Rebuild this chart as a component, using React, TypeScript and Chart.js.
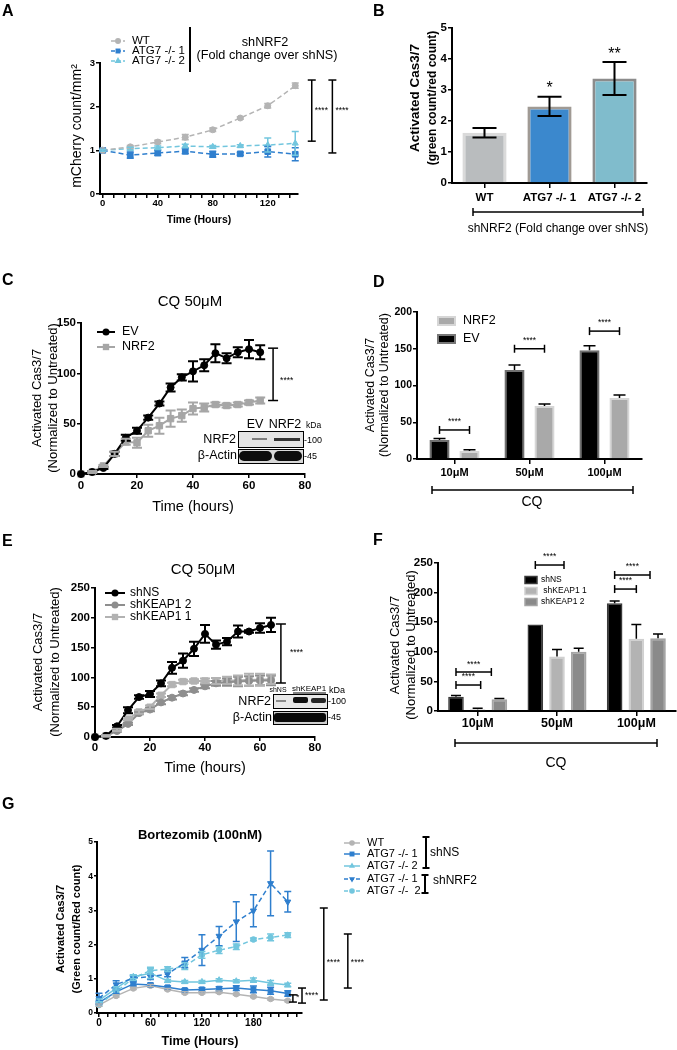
import React, { useEffect, useRef } from 'react';
import { Chart, registerables } from 'chart.js';

Chart.register(...registerables);

const FONT = '"Liberation Sans", Arial, Helvetica, sans-serif';
Chart.defaults.font.family = FONT;
Chart.defaults.color = '#000';

// ---------- colours ----------
const GREY = '#b4b4b4';
const BLUE = '#2f7fce';
const CYAN = '#72c6de';

// ---------- Panel A ----------
const aTimes = [0, 20, 40, 60, 80, 100, 120, 140];
const aWT = [1.0, 1.08, 1.19, 1.3, 1.47, 1.74, 2.02, 2.48];
const aWTErr = [0.02, 0.03, 0.04, 0.06, 0.04, 0.03, 0.05, 0.06];
const aKO1 = [1.0, 0.89, 0.94, 0.98, 0.91, 0.92, 0.97, 0.91];
const aKO1Err = [0.02, 0.07, 0.06, 0.06, 0.07, 0.03, 0.12, 0.15];
const aKO2 = [1.0, 1.04, 1.06, 1.1, 1.08, 1.1, 1.12, 1.16];
const aKO2Err = [0.02, 0.03, 0.04, 0.04, 0.03, 0.03, 0.16, 0.27];
const aLegend = ['WT', 'ATG7 -/- 1', 'ATG7 -/- 2'];
const aXTicks = [0, 8, 16, 24, 32, 40, 48, 56, 64, 72, 80, 88, 96, 104, 112, 120, 128, 136];
const aXLabels = [0, 40, 80, 120];
const aYTicks = [0, 1, 2, 3];
const aBrX = [152, 167];
const aBrTop = [2.61, 2.61];
const aBrBot = [1.21, 0.94];

// ---------- Panel B ----------
const bCats = ['WT', 'ATG7 -/- 1', 'ATG7 -/- 2'];
const bVals = [1.62, 2.47, 3.37];
const bErr = [0.155, 0.31, 0.53];
const bStars = ['', '*', '**'];
const bYTicks = [0, 1, 2, 3, 4, 5];

// ---------- Panel C ----------
const cTimes = [0, 4, 8, 12, 16, 20, 24, 28, 32, 36, 40, 44, 48, 52, 56, 60, 64];
const cEV = [0, 2, 6, 20, 36, 43, 56, 70, 86, 96, 102, 108, 120, 115, 121, 124, 121];
const cEVErr = [0, 1, 1, 2, 3, 3, 2, 2, 4, 3, 10, 6, 9, 5, 5, 9, 7];
const cNRF2 = [0, 2, 8, 20, 32, 31, 43, 48, 55, 58, 65, 66, 69, 68, 69, 71, 73];
const cNRF2Err = [0, 1, 1, 2, 3, 5, 6, 8, 8, 6, 6, 4, 2, 2, 2, 2, 3];
const cLegend = ['EV', 'NRF2'];
const cXTicks = [0, 20, 40, 60, 80];
const cYTicks = [0, 50, 100, 150];

// ---------- Panel D ----------
const dCats = ['10μM', '50μM', '100μM'];
const dEV = [26, 121, 148];
const dEVErr = [2, 7, 6];
const dNRF2 = [11, 72, 83];
const dNRF2Err = [1.5, 3, 4];
const dLegend = ['NRF2', 'EV'];
const dYTicks = [0, 50, 100, 150, 200];
const dBracketY = [39.5, 150, 174];

// ---------- Panel E ----------
const eTimes = [0, 4, 8, 12, 16, 20, 24, 28, 32, 36, 40, 44, 48, 52, 56, 60, 64];
const eShNS = [0, 2, 18, 45, 67, 72, 90, 116, 128, 148, 173, 155, 160, 177, 177, 183, 188];
const eShNSErr = [0, 1, 2, 5, 3, 5, 5, 10, 12, 12, 15, 7, 6, 10, 2, 8, 12];
const eK2 = [0, 2, 10, 22, 40, 46, 58, 66, 73, 79, 85, 90, 92, 93, 94, 95, 95];
const eK2Err = [0, 1, 1, 2, 2, 3, 3, 3, 3, 3, 3, 4, 6, 8, 8, 8, 8];
const eK1 = [0, 2, 12, 30, 42, 50, 70, 88, 93, 94, 94, 94, 95, 95, 96, 96, 97];
const eK1Err = [0, 1, 2, 2, 3, 3, 3, 3, 3, 3, 4, 5, 6, 8, 10, 10, 8];
const eLegend = ['shNS', 'shKEAP1 2', 'shKEAP1 1'];
const eXTicks = [0, 20, 40, 60, 80];
const eYTicks = [0, 50, 100, 150, 200, 250];

// ---------- Panel F ----------
const fCats = ['10μM', '50μM', '100μM'];
const fShNS = [24, 146, 182];
const fShNSErr = [2, 0, 4];
const fK1 = [3, 92, 122];
const fK1Err = [1.5, 12, 24];
const fK2 = [20, 100, 123];
const fK2Err = [1, 6, 7];
const fLegend = ['shNS', ' shKEAP1 1', 'shKEAP1 2'];
const fYTicks = [0, 50, 100, 150, 200, 250];

// ---------- Panel G ----------
const gTimes = [0, 20, 40, 60, 80, 100, 120, 140, 160, 180, 200, 220];
const gWT = [0.23, 0.5, 0.72, 0.8, 0.69, 0.59, 0.59, 0.61, 0.55, 0.48, 0.41, 0.36];
const gWTErr = [0.03, 0.03, 0.03, 0.03, 0.03, 0.03, 0.03, 0.03, 0.03, 0.03, 0.03, 0.03];
const gKO1 = [0.3, 0.62, 0.85, 0.82, 0.75, 0.67, 0.69, 0.71, 0.73, 0.69, 0.65, 0.57];
const gKO1Err = [0.05, 0.05, 0.06, 0.05, 0.04, 0.04, 0.05, 0.06, 0.07, 0.1, 0.1, 0.08];
const gKO2 = [0.37, 0.72, 1.06, 1.16, 0.94, 0.91, 0.91, 0.96, 0.93, 0.96, 0.88, 0.82];
const gKO2Err = [0.04, 0.05, 0.06, 0.15, 0.04, 0.04, 0.04, 0.04, 0.04, 0.06, 0.07, 0.05];
const gKO1n = [0.43, 0.83, 1.02, 1.06, 1.14, 1.47, 1.84, 2.25, 2.67, 2.99, 3.79, 3.25];
const gKO1nErr = [0.15, 0.11, 0.08, 0.08, 0.08, 0.15, 0.45, 0.28, 0.58, 0.47, 0.95, 0.3];
const gKO2n = [0.25, 0.62, 1.02, 1.24, 1.28, 1.37, 1.7, 1.84, 1.94, 2.15, 2.21, 2.28];
const gKO2nErr = [0.05, 0.08, 0.08, 0.1, 0.07, 0.1, 0.1, 0.1, 0.08, 0.04, 0.1, 0.07];
const gLegend = ['WT', 'ATG7 -/- 1', 'ATG7 -/- 2', 'ATG7 -/- 1', 'ATG7 -/-  2'];
const gXTicks = [0, 10, 20, 30, 40, 50, 60, 70, 80, 90, 100, 110, 120, 130, 140, 150, 160, 170, 180, 190, 200, 210, 220, 230];
const gXLabels = [0, 60, 120, 180];
const gYTicks = [0, 1, 2, 3, 4, 5];
const gBrX = [226, 236.6, 262, 290];
const gBrTop = [0.53, 0.73, 3.07, 2.31];
const gBrBot = [0.32, 0.29, 0.38, 0.73];
const gBrTextY = [0.44, 0.5, 1.46, 1.46];
const gBrLabel = ['*', '****', '****', '****'];

// ---------- geometry (page coordinates) ----------
const A_RECT = { x: 0, y: 0, w: 362, h: 250 };
const A_AREA = { l: 100, t: 63, r: 298, b: 194 };
const B_RECT = { x: 340, y: 0, w: 337, h: 250 };
const B_AREA = { l: 452, t: 28, r: 647, b: 183 };
const C_RECT = { x: 0, y: 255, w: 340, h: 275 };
const C_AREA = { l: 81, t: 323, r: 305, b: 474 };
const D_RECT = { x: 340, y: 255, w: 337, h: 265 };
const D_AREA = { l: 417, t: 312, r: 642, b: 459 };
const E_RECT = { x: 0, y: 530, w: 350, h: 260 };
const E_AREA = { l: 95, t: 588, r: 315, b: 737 };
const F_RECT = { x: 340, y: 520, w: 337, h: 270 };
const F_AREA = { l: 438, t: 563, r: 676, b: 711 };
const G_RECT = { x: 0, y: 790, w: 677, h: 260 };
const G_AREA = { l: 97, t: 842, r: 302, b: 1013 };

const Y_BOX = 34; // width reserved for y tick labels
const X_BOX = 24; // height reserved for x tick labels

// ---------- drawing helpers ----------
function text(ctx: any, s: string, x: number, y: number, size: number, o: any = {}) {
  ctx.save();
  ctx.font = `${o.bold ? 'bold ' : ''}${size}px ${FONT}`;
  ctx.fillStyle = o.color || '#000';
  ctx.textAlign = o.align || 'center';
  ctx.textBaseline = o.baseline || 'middle';
  if (o.rot) {
    ctx.translate(x, y);
    ctx.rotate(o.rot);
    ctx.fillText(s, 0, 0);
  } else ctx.fillText(s, x, y);
  ctx.restore();
}
function seg(ctx: any, x1: number, y1: number, x2: number, y2: number, lw = 1.5, color = '#000', dash: number[] = []) {
  ctx.save();
  ctx.strokeStyle = color;
  ctx.lineWidth = lw;
  ctx.setLineDash(dash);
  ctx.beginPath();
  ctx.moveTo(x1, y1);
  ctx.lineTo(x2, y2);
  ctx.stroke();
  ctx.restore();
}
function ibeam(ctx: any, x: number, y1: number, y2: number, half: number, lw = 1.5) {
  seg(ctx, x, y1, x, y2, lw);
  seg(ctx, x - half, y1, x + half, y1, lw);
  seg(ctx, x - half, y2, x + half, y2, lw);
}
function hbracket(ctx: any, x1: number, x2: number, y: number, half: number, lw = 1.5) {
  seg(ctx, x1, y, x2, y, lw);
  seg(ctx, x1, y - half, x1, y + half, lw);
  seg(ctx, x2, y - half, x2, y + half, lw);
}
function mark(ctx: any, style: string, x: number, y: number, r: number, color: string) {
  ctx.save();
  ctx.fillStyle = color;
  ctx.beginPath();
  if (style === 'circle') ctx.arc(x, y, r, 0, Math.PI * 2);
  else if (style === 'rect') {
    const s = r * Math.SQRT1_2;
    ctx.rect(x - s, y - s, 2 * s, 2 * s);
  } else {
    const a0 = style === 'triangle' ? 0 : Math.PI;
    for (let k = 0; k < 3; k++) {
      const a = a0 + (k * 2 * Math.PI) / 3;
      const px = x + Math.sin(a) * r;
      const py = y - Math.cos(a) * r;
      if (k) ctx.lineTo(px, py);
      else ctx.moveTo(px, py);
    }
    ctx.closePath();
  }
  ctx.fill();
  ctx.restore();
}
function legendEntry(ctx: any, x1: number, x2: number, y: number, color: string, dash: number[], lw: number, style: string, r: number, label: string, tx: number, size: number, bold = false) {
  seg(ctx, x1, y, x2, y, lw, color, dash);
  mark(ctx, style, (x1 + x2) / 2, y, r, color);
  text(ctx, label, tx, y, size, { align: 'left', bold });
}
function legendBox(ctx: any, x: number, y: number, w: number, h: number, fill: string, edge: string, lw = 2) {
  ctx.save();
  ctx.fillStyle = fill;
  ctx.fillRect(x, y, w, h);
  ctx.strokeStyle = edge;
  ctx.lineWidth = lw;
  ctx.strokeRect(x, y, w, h);
  ctx.restore();
}
function letter(ctx: any, s: string, x: number, y: number) {
  text(ctx, s, x, y, 16, { bold: true, align: 'left', baseline: 'alphabetic' });
}
function rrect(ctx: any, x: number, y: number, w: number, h: number, r: number, fill: string) {
  ctx.save();
  ctx.fillStyle = fill;
  ctx.beginPath();
  ctx.roundRect(x, y, w, h, r);
  ctx.fill();
  ctx.restore();
}
function boxRect(ctx: any, x: number, y: number, w: number, h: number, fill: string) {
  ctx.save();
  ctx.fillStyle = fill;
  ctx.fillRect(x, y, w, h);
  ctx.strokeStyle = '#000';
  ctx.lineWidth = 1;
  ctx.strokeRect(x + 0.5, y + 0.5, w, h);
  ctx.restore();
}

// ---------- chart option helpers ----------
function common(rect: any, area: any) {
  return {
    responsive: false,
    maintainAspectRatio: false,
    animation: false,
    devicePixelRatio: 1,
    events: [],
    layout: {
      autoPadding: false,
      padding: {
        left: area.l - rect.x - Y_BOX,
        top: area.t - rect.y,
        right: rect.x + rect.w - area.r,
        bottom: rect.y + rect.h - area.b - X_BOX,
      },
    },
    plugins: { legend: { display: false }, tooltip: { enabled: false }, title: { display: false } },
  };
}
function linAxis(axis: string, min: number, max: number, ticks: number[], labels: number[], font: number, pad: number, tickLen = 4) {
  return {
    type: 'linear',
    min,
    max,
    afterFit: (s: any) => {
      if (axis === 'x') s.height = X_BOX;
      else s.width = Y_BOX;
    },
    afterBuildTicks: (s: any) => {
      s.ticks = ticks.map((v) => ({ value: v }));
    },
    grid: { display: true, drawOnChartArea: false, drawTicks: true, tickLength: tickLen, color: '#000', lineWidth: 1.5 },
    border: { display: true, color: '#000', width: 2 },
    ticks: {
      autoSkip: false,
      maxRotation: 0,
      minRotation: 0,
      padding: pad,
      color: '#000',
      font: { family: FONT, size: font, weight: 'bold' },
      callback: (v: number) => (labels.includes(v) ? String(v) : ''),
    },
  };
}
function catAxis(font: number, pad: number) {
  return {
    type: 'category',
    offset: true,
    afterFit: (s: any) => {
      s.height = X_BOX;
    },
    grid: { display: true, drawOnChartArea: false, drawTicks: true, offset: false, tickLength: 5, color: '#000', lineWidth: 1.5 },
    border: { display: true, color: '#000', width: 2 },
    ticks: { autoSkip: false, maxRotation: 0, minRotation: 0, padding: pad, color: '#000', font: { family: FONT, size: font, weight: 'bold' } },
  };
}
function lineDs(times: number[], vals: number[], errs: number[], color: string, style: string, o: any = {}) {
  return {
    data: times.map((t, i) => ({ x: t, y: vals[i] })),
    errors: errs,
    borderColor: color,
    backgroundColor: color,
    borderWidth: o.lw ?? 1.5,
    borderDash: o.dash ?? [],
    pointStyle: style,
    pointRadius: o.r ?? 3,
    pointHoverRadius: o.r ?? 3,
    pointRotation: o.rot ?? 0,
    pointBackgroundColor: color,
    pointBorderColor: color,
    pointBorderWidth: 1,
    tension: 0,
    fill: false,
    clip: false,
    errColor: color,
    errWidth: o.ew ?? 1.5,
    capW: o.cap ?? 8,
  };
}
function barDs(vals: number[], errs: number[], fill: any, edge: any, bw: number, o: any) {
  return {
    data: vals,
    errors: errs,
    backgroundColor: fill,
    borderColor: edge,
    borderWidth: bw,
    borderSkipped: 'bottom',
    barPercentage: o.bp,
    categoryPercentage: o.cp,
    upOnly: o.upOnly,
    errColor: '#000',
    errWidth: o.ew ?? 1.5,
    capW: o.cap,
  };
}

const errorBars = {
  id: 'errorBars',
  afterDatasetsDraw(chart: any) {
    const ctx = chart.ctx;
    chart.data.datasets.forEach((ds: any, i: number) => {
      if (!ds.errors) return;
      const meta = chart.getDatasetMeta(i);
      const ys = chart.scales[meta.yAxisID];
      ctx.save();
      ctx.strokeStyle = ds.errColor || '#000';
      ctx.lineWidth = ds.errWidth || 1.5;
      ctx.setLineDash([]);
      meta.data.forEach((el: any, j: number) => {
        const e = ds.errors[j];
        if (!e) return;
        const raw = ds.data[j];
        const v = typeof raw === 'number' ? raw : raw.y;
        const x = el.x;
        const y1 = ys.getPixelForValue(v + e);
        const y2 = ys.getPixelForValue(ds.upOnly ? v : v - e);
        const h = (ds.capW || 8) / 2;
        ctx.beginPath();
        ctx.moveTo(x, y1);
        ctx.lineTo(x, y2);
        ctx.moveTo(x - h, y1);
        ctx.lineTo(x + h, y1);
        if (!ds.upOnly) {
          ctx.moveTo(x - h, y2);
          ctx.lineTo(x + h, y2);
        }
        ctx.stroke();
      });
      ctx.restore();
    });
  },
};

function scalers(chart: any, rect: any) {
  return {
    X: (v: number) => chart.scales.x.getPixelForValue(v) + rect.x,
    Y: (v: number) => chart.scales.y.getPixelForValue(v) + rect.y,
  };
}

// ---------- Panel A ----------
function annotA(chart: any) {
  const ctx = chart.ctx;
  const { X, Y } = scalers(chart, A_RECT);
  ctx.save();
  ctx.translate(-A_RECT.x, -A_RECT.y);
  letter(ctx, 'A', 2, 16);
  const cols = [GREY, BLUE, CYAN];
  const styles = ['circle', 'rect', 'triangle'];
  const rs = [3, 3.5, 4];
  [41, 51, 61].forEach((y, i) => legendEntry(ctx, 111, 125, y, cols[i], [4, 2], 1.5, styles[i], rs[i], aLegend[i], 132, 11.5));
  seg(ctx, 190, 27, 190, 72, 2);
  text(ctx, 'shNRF2', 265, 42, 12.7);
  text(ctx, '(Fold change over shNS)', 267, 55, 12.7);
  aBrX.forEach((bx, i) => {
    ibeam(ctx, X(bx), Y(aBrTop[i]), Y(aBrBot[i]), 4);
    text(ctx, '****', X(bx) + 3, Y(1.92), 8.5, { align: 'left' });
  });
  text(ctx, 'mCherry count/mm²', 77, 126, 14, { rot: -Math.PI / 2 });
  text(ctx, 'Time (Hours)', 199, 220, 10.5, { bold: true });
  ctx.restore();
}
function configA() {
  return {
    type: 'line',
    data: {
      datasets: [
        lineDs(aTimes, aWT, aWTErr, GREY, 'circle', { dash: [5, 3], r: 3, cap: 7 }),
        lineDs(aTimes, aKO1, aKO1Err, BLUE, 'rect', { dash: [5, 3], r: 4, cap: 7 }),
        lineDs(aTimes, aKO2, aKO2Err, CYAN, 'triangle', { dash: [5, 3], r: 3.5, cap: 7 }),
      ],
    },
    options: {
      ...common(A_RECT, A_AREA),
      scales: {
        x: linAxis('x', -2, 142, aXTicks, aXLabels, 9.5, 0),
        y: linAxis('y', 0, 3, aYTicks, aYTicks, 9.5, 1),
      },
    },
    plugins: [errorBars, { id: 'annA', afterDraw: annotA }],
  };
}

// ---------- Panel B ----------
function annotB(chart: any) {
  const ctx = chart.ctx;
  const { Y } = scalers(chart, B_RECT);
  const meta = chart.getDatasetMeta(0);
  ctx.save();
  ctx.translate(-B_RECT.x, -B_RECT.y);
  letter(ctx, 'B', 373, 16);
  bStars.forEach((s, i) => {
    if (!s) return;
    text(ctx, s, meta.data[i].x + B_RECT.x, Y(bVals[i] + bErr[i]) - 8, 16);
  });
  text(ctx, 'Activated Cas3/7', 415, 98, 13.5, { bold: true, rot: -Math.PI / 2 });
  text(ctx, '(green count/red count)', 433, 98, 12, { bold: true, rot: -Math.PI / 2 });
  hbracket(ctx, 473, 643, 212, 4);
  text(ctx, 'shNRF2 (Fold change over shNS)', 558, 229, 12);
  ctx.restore();
}
function configB() {
  return {
    type: 'bar',
    data: {
      labels: bCats,
      datasets: [
        barDs(bVals, bErr, ['#b9bcbe', '#3b88cd', '#80bccc'], ['#dadada', '#a09a94', '#8c8c8c'], 3, { bp: 0.68, cp: 1, cap: 24, ew: 2 }),
      ],
    },
    options: {
      ...common(B_RECT, B_AREA),
      scales: {
        x: catAxis(11.5, 3),
        y: linAxis('y', 0, 5, bYTicks, bYTicks, 11.5, 1),
      },
    },
    plugins: [errorBars, { id: 'annB', afterDraw: annotB }],
  };
}

// ---------- Panel C ----------
function blotC(ctx: any) {
  text(ctx, 'EV', 255, 425, 12.5);
  text(ctx, 'NRF2', 285, 425, 12.5);
  text(ctx, 'kDa', 306, 426, 8.5, { align: 'left' });
  boxRect(ctx, 238, 431, 65, 16, '#e4e4e4');
  ctx.save();
  ctx.fillStyle = 'rgba(40,40,40,0.55)';
  ctx.fillRect(252, 438, 15, 2);
  ctx.fillStyle = 'rgba(20,20,20,0.85)';
  ctx.fillRect(274, 438, 26, 3);
  ctx.restore();
  boxRect(ctx, 238, 449, 65, 14, '#d8d8d8');
  rrect(ctx, 239, 451, 33, 10, 5, '#0d0d0d');
  rrect(ctx, 274, 451, 28, 10, 5, '#0d0d0d');
  text(ctx, 'NRF2', 236, 440, 12.5, { align: 'right' });
  text(ctx, 'β-Actin', 237, 456, 12.5, { align: 'right' });
  text(ctx, '-100', 304, 441, 9, { align: 'left' });
  text(ctx, '-45', 304, 457, 9, { align: 'left' });
}
function annotC(chart: any) {
  const ctx = chart.ctx;
  const { X, Y } = scalers(chart, C_RECT);
  ctx.save();
  ctx.translate(-C_RECT.x, -C_RECT.y);
  letter(ctx, 'C', 2, 285);
  text(ctx, 'CQ 50μM', 190, 302, 15);
  legendEntry(ctx, 97, 115, 332, '#000', [], 2, 'circle', 3.5, cLegend[0], 122, 12.5);
  legendEntry(ctx, 97, 115, 347, '#a6a6a6', [], 2, 'rect', 4.5, cLegend[1], 122, 12.5);
  ibeam(ctx, X(68.6), Y(125), Y(73), 5);
  text(ctx, '****', X(68.6) + 7, Y(93), 8.5, { align: 'left' });
  blotC(ctx);
  text(ctx, 'Activated Cas3/7', 37, 398, 13, { rot: -Math.PI / 2 });
  text(ctx, '(Normalized to Untreated)', 53, 398, 13, { rot: -Math.PI / 2 });
  text(ctx, 'Time (hours)', 193, 507, 14.5);
  ctx.restore();
}
function configC() {
  return {
    type: 'line',
    data: {
      datasets: [
        lineDs(cTimes, cEV, cEVErr, '#000', 'circle', { lw: 2, r: 3.5, cap: 10, ew: 2 }),
        lineDs(cTimes, cNRF2, cNRF2Err, '#a6a6a6', 'rect', { lw: 2, r: 4.5, cap: 10, ew: 2 }),
      ],
    },
    options: {
      ...common(C_RECT, C_AREA),
      scales: {
        x: linAxis('x', 0, 80, cXTicks, cXTicks, 11.5, 1),
        y: linAxis('y', 0, 150, cYTicks, cYTicks, 11.5, 1),
      },
    },
    plugins: [errorBars, { id: 'annC', afterDraw: annotC }],
  };
}

// ---------- Panel D ----------
function annotD(chart: any) {
  const ctx = chart.ctx;
  const { Y } = scalers(chart, D_RECT);
  const ev = chart.getDatasetMeta(0).data;
  const nr = chart.getDatasetMeta(1).data;
  ctx.save();
  ctx.translate(-D_RECT.x, -D_RECT.y);
  letter(ctx, 'D', 373, 287);
  legendBox(ctx, 438, 317, 17, 8, '#a9a9a9', '#d6d6d6');
  text(ctx, dLegend[0], 463, 321, 12.5, { align: 'left' });
  legendBox(ctx, 438, 335, 17, 8, '#000', '#777');
  text(ctx, dLegend[1], 463, 339, 12.5, { align: 'left' });
  dBracketY.forEach((v, i) => {
    const x1 = ev[i].x + D_RECT.x;
    const x2 = nr[i].x + D_RECT.x;
    hbracket(ctx, x1, x2, Y(v), 4);
    text(ctx, '****', (x1 + x2) / 2, Y(v) - 8, 8.5);
  });
  text(ctx, 'Activated Cas3/7', 371, 385, 12.5, { rot: -Math.PI / 2 });
  text(ctx, '(Normalized to Untreated)', 385, 385, 12.5, { rot: -Math.PI / 2 });
  hbracket(ctx, 432, 633, 490, 4);
  text(ctx, 'CQ', 532, 506, 14, { baseline: 'alphabetic' });
  ctx.restore();
}
function configD() {
  return {
    type: 'bar',
    data: {
      labels: dCats,
      datasets: [
        barDs(dEV, dEVErr, '#000', '#707070', 2, { bp: 0.67, cp: 0.8, cap: 12, upOnly: true }),
        barDs(dNRF2, dNRF2Err, '#a9a9a9', '#d6d6d6', 2, { bp: 0.67, cp: 0.8, cap: 12, upOnly: true }),
      ],
    },
    options: {
      ...common(D_RECT, D_AREA),
      scales: {
        x: catAxis(11, 2),
        y: linAxis('y', 0, 200, dYTicks, dYTicks, 10.5, 1),
      },
    },
    plugins: [errorBars, { id: 'annD', afterDraw: annotD }],
  };
}

// ---------- Panel E ----------
function blotE(ctx: any) {
  text(ctx, 'shNS', 278, 690, 7);
  text(ctx, 'shKEAP1', 309, 689, 8);
  seg(ctx, 293, 693, 326, 693, 1);
  text(ctx, 'kDa', 329, 691, 9, { align: 'left' });
  boxRect(ctx, 273, 694, 54, 14, '#e8e8e8');
  ctx.save();
  ctx.fillStyle = '#8a8a8a';
  ctx.fillRect(276, 700, 10, 2);
  ctx.restore();
  rrect(ctx, 293, 697, 15, 6, 2, '#111');
  rrect(ctx, 311, 698, 15, 5, 2, '#262626');
  boxRect(ctx, 273, 711, 54, 13, '#cfcfcf');
  rrect(ctx, 274, 713, 52, 9, 3, '#0a0a0a');
  text(ctx, 'NRF2', 271, 702, 12.5, { align: 'right' });
  text(ctx, 'β-Actin', 272, 718, 12.5, { align: 'right' });
  text(ctx, '-100', 328, 702, 9, { align: 'left' });
  text(ctx, '-45', 328, 718, 9, { align: 'left' });
}
function annotE(chart: any) {
  const ctx = chart.ctx;
  const { X, Y } = scalers(chart, E_RECT);
  ctx.save();
  ctx.translate(-E_RECT.x, -E_RECT.y);
  letter(ctx, 'E', 2, 546);
  text(ctx, 'CQ 50μM', 203, 570, 15);
  legendEntry(ctx, 105, 125, 593, '#000', [], 2, 'circle', 3.5, eLegend[0], 130, 12);
  legendEntry(ctx, 105, 125, 605, '#8e8e8e', [], 2, 'circle', 3.5, eLegend[1], 130, 12);
  legendEntry(ctx, 105, 125, 617, '#b2b2b2', [], 2, 'rect', 4.5, eLegend[2], 130, 12);
  ibeam(ctx, X(67.6), Y(189.6), Y(90.6), 5);
  text(ctx, '****', X(67.6) + 9, Y(141), 8.5, { align: 'left' });
  blotE(ctx);
  text(ctx, 'Activated Cas3/7', 38, 662, 13, { rot: -Math.PI / 2 });
  text(ctx, '(Normalized to Untreated)', 55, 662, 13, { rot: -Math.PI / 2 });
  text(ctx, 'Time (hours)', 205, 768, 14.5);
  ctx.restore();
}
function configE() {
  return {
    type: 'line',
    data: {
      datasets: [
        lineDs(eTimes, eShNS, eShNSErr, '#000', 'circle', { lw: 2, r: 3.5, cap: 10, ew: 2 }),
        lineDs(eTimes, eK2, eK2Err, '#8e8e8e', 'circle', { lw: 2, r: 3.5, cap: 10, ew: 2 }),
        lineDs(eTimes, eK1, eK1Err, '#b2b2b2', 'rect', { lw: 2, r: 4.5, cap: 10, ew: 2 }),
      ],
    },
    options: {
      ...common(E_RECT, E_AREA),
      scales: {
        x: linAxis('x', 0, 80, eXTicks, eXTicks, 11.5, 0),
        y: linAxis('y', 0, 250, eYTicks, eYTicks, 11.5, 1),
      },
    },
    plugins: [errorBars, { id: 'annE', afterDraw: annotE }],
  };
}

// ---------- Panel F ----------
function annotF(chart: any) {
  const ctx = chart.ctx;
  const { Y } = scalers(chart, F_RECT);
  const ns = chart.getDatasetMeta(0).data;
  const k1 = chart.getDatasetMeta(1).data;
  const k2 = chart.getDatasetMeta(2).data;
  const px = (el: any) => el.x + F_RECT.x;
  ctx.save();
  ctx.translate(-F_RECT.x, -F_RECT.y);
  letter(ctx, 'F', 373, 545);
  const fills = ['#000', '#b3b3b3', '#8a8a8a'];
  const edges = ['#3a3a3a', '#d0d0d0', '#a5a5a5'];
  [580, 591, 602].forEach((y, i) => {
    legendBox(ctx, 525, y - 3.5, 12, 7, fills[i], edges[i], 1.5);
    text(ctx, fLegend[i], 541, y, 8.5, { align: 'left' });
  });
  const br = (x1: number, x2: number, v: number, tv: number) => {
    hbracket(ctx, x1, x2, Y(v), 4);
    text(ctx, '****', (x1 + x2) / 2, Y(tv), 8.5);
  };
  br(px(ns[1]), px(k1[1]) + 7, 246.6, 260);
  br(px(ns[2]), px(k2[2]) - 8, 229.7, 243);
  br(px(ns[2]), px(k1[2]), 206, 219.6);
  br(px(ns[0]), px(k2[0]) - 8, 65.9, 79);
  br(px(ns[0]), px(k1[0]) + 3, 43.9, 57.4);
  text(ctx, 'Activated Cas3/7', 395, 645, 13, { rot: -Math.PI / 2 });
  text(ctx, '(Normalized to Untreated)', 411, 645, 13, { rot: -Math.PI / 2 });
  hbracket(ctx, 455, 657, 743, 4);
  text(ctx, 'CQ', 556, 767, 14, { baseline: 'alphabetic' });
  ctx.restore();
}
function configF() {
  return {
    type: 'bar',
    data: {
      labels: fCats,
      datasets: [
        barDs(fShNS, fShNSErr, '#000', '#3a3a3a', 1.5, { bp: 0.72, cp: 0.82, cap: 10, upOnly: true }),
        barDs(fK1, fK1Err, '#b3b3b3', '#d0d0d0', 2, { bp: 0.72, cp: 0.82, cap: 10, upOnly: true }),
        barDs(fK2, fK2Err, '#8a8a8a', '#a5a5a5', 2, { bp: 0.72, cp: 0.82, cap: 10, upOnly: true }),
      ],
    },
    options: {
      ...common(F_RECT, F_AREA),
      scales: {
        x: catAxis(12.5, 0),
        y: linAxis('y', 0, 250, fYTicks, fYTicks, 11.5, 1),
      },
    },
    plugins: [errorBars, { id: 'annF', afterDraw: annotF }],
  };
}

// ---------- Panel G ----------
function annotG(chart: any) {
  const ctx = chart.ctx;
  const { X, Y } = scalers(chart, G_RECT);
  ctx.save();
  ctx.translate(-G_RECT.x, -G_RECT.y);
  letter(ctx, 'G', 2, 809);
  text(ctx, 'Bortezomib (100nM)', 200, 835, 13, { bold: true });
  const cols = [GREY, BLUE, CYAN, BLUE, CYAN];
  const styles = ['circle', 'rect', 'triangle', 'triangleDown', 'circle'];
  const dashes = [[], [], [], [4, 2], [4, 2]];
  const rs = [2.8, 3.5, 3.5, 3.5, 2.8];
  [843, 854, 866, 879, 891].forEach((y, i) =>
    legendEntry(ctx, 344, 360, y, cols[i], dashes[i], 1.5, styles[i], rs[i], gLegend[i], 367, 11)
  );
  ibeam(ctx, 426, 837, 868, 3.5, 2);
  text(ctx, 'shNS', 430, 853, 12, { align: 'left' });
  ibeam(ctx, 425, 875, 893, 3.5, 2);
  text(ctx, 'shNRF2', 433, 881, 12, { align: 'left' });
  gBrX.forEach((bx, i) => {
    ibeam(ctx, X(bx), Y(gBrTop[i]), Y(gBrBot[i]), 4);
    text(ctx, gBrLabel[i], X(bx) + 3, Y(gBrTextY[i]), 8.5, { align: 'left' });
  });
  text(ctx, 'Activated Cas3/7', 61, 929, 11, { bold: true, rot: -Math.PI / 2 });
  text(ctx, '(Green count/Red count)', 77, 929, 11, { bold: true, rot: -Math.PI / 2 });
  text(ctx, 'Time (Hours)', 200, 1042, 12.5, { bold: true });
  ctx.restore();
}
function configG() {
  return {
    type: 'line',
    data: {
      datasets: [
        lineDs(gTimes, gKO1n, gKO1nErr, BLUE, 'triangle', { dash: [5, 3], r: 3.5, rot: 180, cap: 7 }),
        lineDs(gTimes, gKO2n, gKO2nErr, CYAN, 'circle', { dash: [5, 3], r: 2.8, cap: 7 }),
        lineDs(gTimes, gKO1, gKO1Err, BLUE, 'rect', { r: 3.5, cap: 7 }),
        lineDs(gTimes, gKO2, gKO2Err, CYAN, 'triangle', { r: 3.5, cap: 7 }),
        lineDs(gTimes, gWT, gWTErr, GREY, 'circle', { r: 2.8, cap: 7 }),
      ],
    },
    options: {
      ...common(G_RECT, G_AREA),
      scales: {
        x: linAxis('x', -2.3, 236.6, gXTicks, gXLabels, 10, 0),
        y: linAxis('y', 0, 5, gYTicks, gYTicks, 8.5, 1, 3),
      },
    },
    plugins: [errorBars, { id: 'annG', afterDraw: annotG }],
  };
}

const PANELS = [
  { rect: A_RECT, make: configA },
  { rect: B_RECT, make: configB },
  { rect: C_RECT, make: configC },
  { rect: D_RECT, make: configD },
  { rect: E_RECT, make: configE },
  { rect: F_RECT, make: configF },
  { rect: G_RECT, make: configG },
];

function ChartPanel({ rect, make }: any) {
  const ref = useRef<HTMLCanvasElement | null>(null);
  useEffect(() => {
    if (!ref.current) return;
    const chart = new Chart(ref.current, make() as any);
    return () => chart.destroy();
  }, [make]);
  return (
    <canvas
      ref={ref}
      width={rect.w}
      height={rect.h}
      style={{ position: 'absolute', left: rect.x, top: rect.y, width: rect.w, height: rect.h }}
    />
  );
}

export default function App() {
  return (
    <div style={{ position: 'absolute', left: 0, top: 0, width: 677, height: 1050, background: '#fff', overflow: 'hidden' }}>
      {PANELS.map((p, i) => (
        <ChartPanel key={i} rect={p.rect} make={p.make} />
      ))}
    </div>
  );
}
